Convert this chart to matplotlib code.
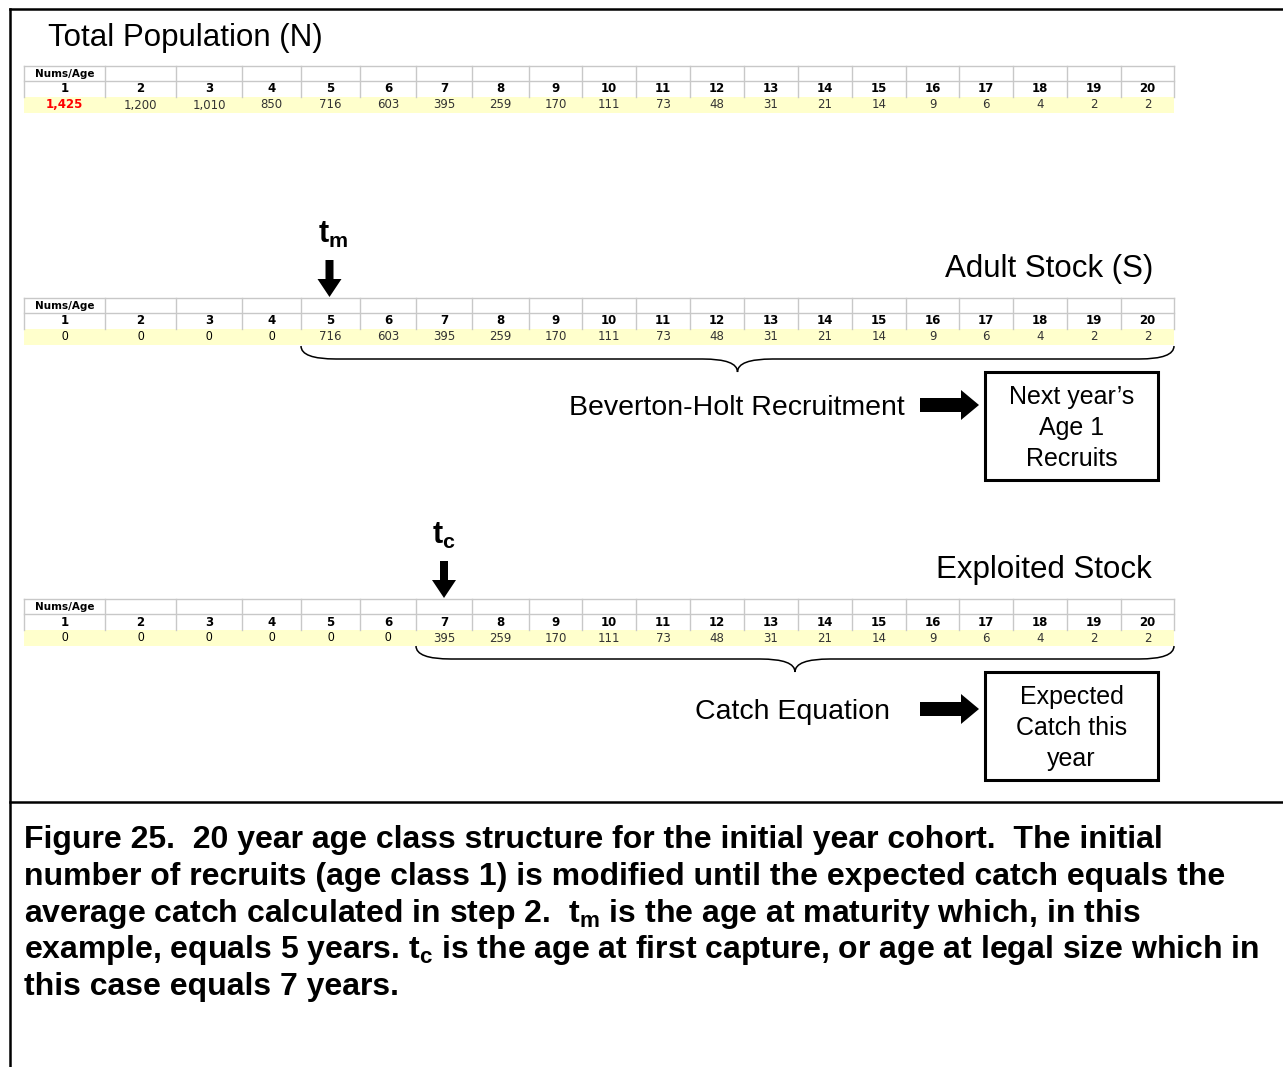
import matplotlib
matplotlib.use("Agg")
import matplotlib.pyplot as plt  # noqa: E402
from matplotlib.patches import FancyArrow, PathPatch, Rectangle  # noqa: E402
from matplotlib.path import Path  # noqa: E402

plt.rcParams["font.family"] = ["Liberation Sans", "DejaVu Sans"]
plt.rcParams["mathtext.fontset"] = "custom"
plt.rcParams["mathtext.rm"] = "Liberation Sans"
plt.rcParams["mathtext.it"] = "Liberation Sans"
plt.rcParams["mathtext.bf"] = "Liberation Sans:bold"

# data
ages = list(range(1, 21))
total_pop = [1425, 1200, 1010, 850, 716, 603, 395, 259, 170, 111,
             73, 48, 31, 21, 14, 9, 6, 4, 2, 2]
age_maturity = 5   # t_m
age_capture = 7    # t_c
adult_stock = [n if a >= age_maturity else 0 for a, n in zip(ages, total_pop)]
exploited_stock = [n if a >= age_capture else 0 for a, n in zip(ages, total_pop)]

caption_lines = [
    "Figure 25.  20 year age class structure for the initial year cohort.  The initial",
    "number of recruits (age class 1) is modified until the expected catch equals the",
    r"average catch calculated in step 2.  $\mathbf{t_m}$ is the age at maturity which, in this",
    r"example, equals 5 years. $\mathbf{t_c}$ is the age at first capture, or age at legal size which in",
    "this case equals 7 years.",
]

# layout (pixels of the 1283x1067 canvas)
W, H = 1283, 1067
col_edges = [24, 105, 176, 242, 301, 360, 416, 472, 529, 582, 636,
             690, 744, 798, 852, 906, 959, 1013, 1067, 1121, 1174]
NARROW = ["Liberation Sans Narrow", "DejaVu Sans"]
GRID = "#c8c8c8"
YELLOW = "#ffffcc"

fig = plt.figure(figsize=(W / 100, H / 100), dpi=100)
ax = fig.add_axes([0, 0, 1, 1])
ax.set_xlim(0, W)
ax.set_ylim(H, 0)
ax.axis("off")


def col_center(age):
    return (col_edges[age - 1] + col_edges[age]) / 2


def draw_table(y0, values, red_first=False):
    ax.add_patch(Rectangle((col_edges[0], y0 + 31), col_edges[-1] - col_edges[0], 16,
                           facecolor=YELLOW, edgecolor="none"))
    for yy in (y0, y0 + 15):
        ax.plot([col_edges[0], col_edges[-1]], [yy, yy], color=GRID, lw=1)
    for xx in col_edges:
        ax.plot([xx, xx], [y0, y0 + 31], color=GRID, lw=1)
    ax.text(col_center(1), y0 + 8, "Nums/Age", ha="center", va="center",
            fontsize=7.5, fontweight="bold", family=NARROW)
    for a, v in zip(ages, values):
        cx = col_center(a)
        ax.text(cx, y0 + 23, str(a), ha="center", va="center",
                fontsize=8.5, fontweight="bold", family=NARROW)
        if v == 0:
            ax.text(cx, y0 + 39, "0", ha="center", va="center", fontsize=8.5)
        else:
            color = "red" if (red_first and a == 1) else "#333333"
            ax.text(cx, y0 + 39, f"{v:,}", ha="center", va="center", fontsize=8.5,
                    family=NARROW, color=color,
                    fontweight="bold" if color == "red" else "normal")


def draw_brace(x0, x1, ytop, depth=13, tip=13, r=35):
    xm = (x0 + x1) / 2
    y1 = ytop + depth
    verts = [(x0, ytop), (x0, y1), (x0 + r, y1), (xm - r, y1), (xm, y1), (xm, y1 + tip),
             (xm, y1), (xm + r, y1), (x1 - r, y1), (x1, y1), (x1, ytop)]
    codes = [Path.MOVETO, Path.CURVE3, Path.CURVE3, Path.LINETO, Path.CURVE3, Path.CURVE3,
             Path.CURVE3, Path.CURVE3, Path.LINETO, Path.CURVE3, Path.CURVE3]
    ax.add_patch(PathPatch(Path(verts, codes), facecolor="none", edgecolor="black", lw=1.1))


def down_arrow(x, ytop, ybot):
    ax.add_patch(FancyArrow(x, ytop, 0, ybot - ytop, width=8, head_width=24,
                            head_length=18, length_includes_head=True,
                            color="black", lw=0))


def right_arrow(x0, x1, y):
    ax.add_patch(FancyArrow(x0, y, x1 - x0, 0, width=14, head_width=30,
                            head_length=18, length_includes_head=True,
                            color="black", lw=0))


def text_box(x0, y0, x1, y1, lines):
    ax.add_patch(Rectangle((x0, y0), x1 - x0, y1 - y0, facecolor="white",
                           edgecolor="black", lw=2.2))
    for i, s in enumerate(lines):
        ax.text((x0 + x1) / 2, y0 + 25 + 31 * i, s, ha="center", va="center", fontsize=18)


# frame
ax.plot([10, 10], [9, H], color="black", lw=1.8)
ax.plot([10, W], [9, 9], color="black", lw=1.8)
ax.plot([10, W], [802, 802], color="black", lw=1.8)

# total population
ax.text(48, 46, "Total Population (N)", fontsize=22.5, va="baseline")
draw_table(66, total_pop, red_first=True)

# adult stock
ax.text(1153, 277, "Adult Stock (S)", fontsize=22.5, ha="right", va="baseline")
ax.text(col_center(age_maturity) + 3, 243, r"$\mathbf{t_m}$", fontsize=22,
        ha="center", va="baseline")
down_arrow(col_center(age_maturity) - 1, 260, 297)
draw_table(298, adult_stock)
draw_brace(col_edges[age_maturity - 1], col_edges[-1], 346)
ax.text(905, 415, "Beverton-Holt Recruitment", fontsize=20.5, ha="right", va="baseline")
right_arrow(920, 979, 405)
text_box(985, 372, 1158, 480, ["Next year\u2019s", "Age 1", "Recruits"])

# exploited stock
ax.text(1152, 578, "Exploited Stock", fontsize=22.5, ha="right", va="baseline")
ax.text(col_center(age_capture), 544, r"$\mathbf{t_c}$", fontsize=22,
        ha="center", va="baseline")
down_arrow(col_center(age_capture), 561, 598)
draw_table(599, exploited_stock)
draw_brace(col_edges[age_capture - 1], col_edges[-1], 646)
ax.text(890, 719, "Catch Equation", fontsize=20.5, ha="right", va="baseline")
right_arrow(920, 979, 709)
text_box(985, 672, 1158, 780, ["Expected", "Catch this", "year"])

# caption
for i, line in enumerate(caption_lines):
    ax.text(24, 848 + 36.8 * i, line, fontsize=23, fontweight="bold", va="baseline")

fig.savefig("out.png", dpi=100)
